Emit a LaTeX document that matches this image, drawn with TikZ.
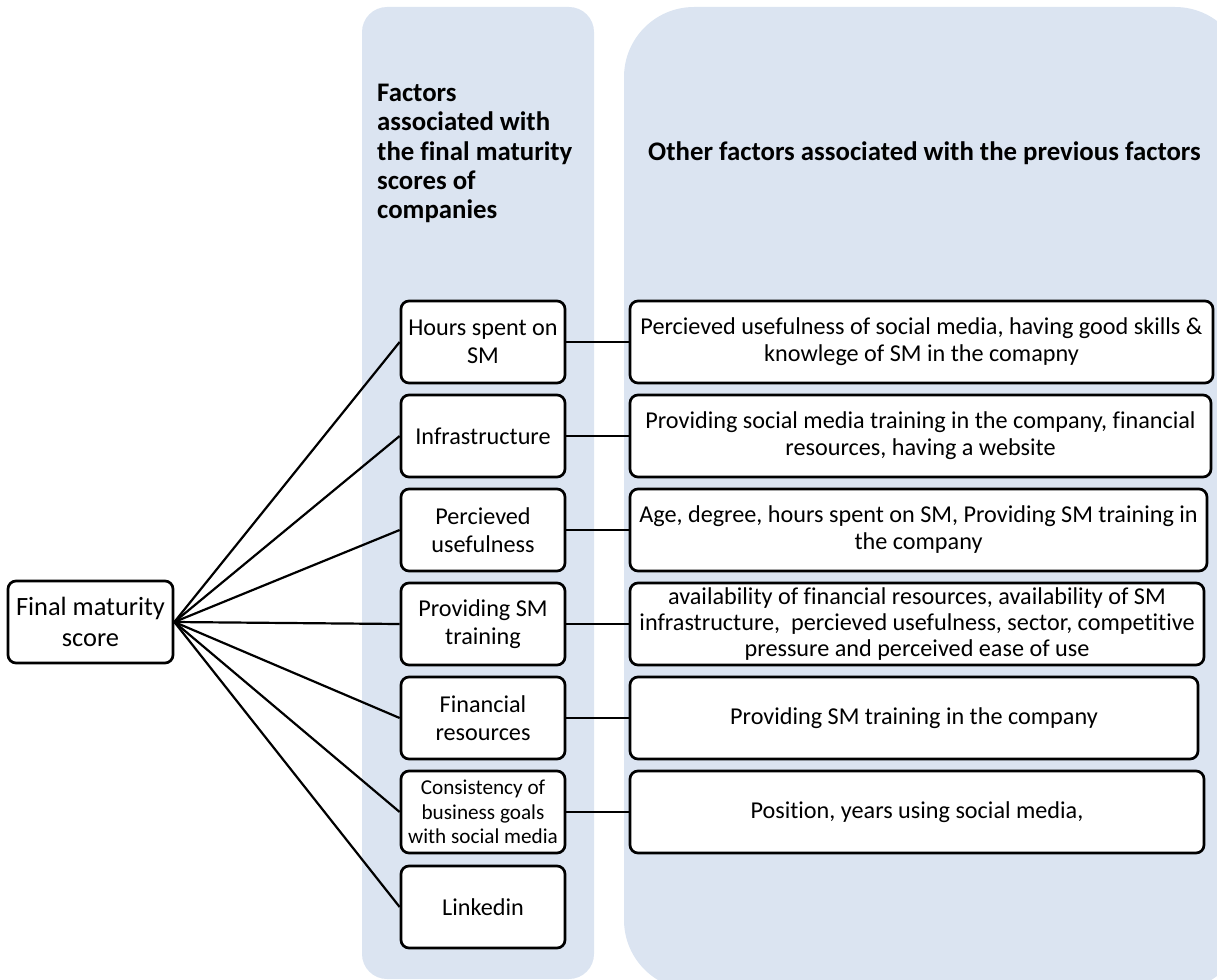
\documentclass[tikz,border=0pt]{standalone}
\usepackage{fontspec}
\setmainfont{Carlito}[Ligatures=NoCommon]
\definecolor{panelblue}{RGB}{219,228,241}
\begin{document}
\begin{tikzpicture}[x=1pt,y=-1pt,
  panel/.style={fill=panelblue,draw=none},
  boxbase/.style={draw,line width=2.7pt,rounded corners=8pt,fill=white,
    align=center,inner sep=2pt,minimum height=82pt},
  factor/.style={boxbase,minimum width=164pt,font=\fontsize{24.2}{27.5}\selectfont},
  smallfactor/.style={boxbase,minimum width=164pt,font=\fontsize{21.2}{24.5}\selectfont},
  detail/.style={boxbase,font=\fontsize{24.2}{27}\selectfont},
  link/.style={line width=2.2pt},
  header/.style={font=\fontsize{26.8}{29.3}\selectfont\bfseries}]
\useasboundingbox (0,0) rectangle (1217,979);

% background columns
\fill[panel,rounded corners=25pt] (362,7) rectangle (594,979);
\fill[panel,rounded corners=70pt] (624,7) rectangle (1245,990);

% column headings
\node[header,align=left,anchor=north west,inner sep=0pt] (h1) at (377,84)
  {Factors\\associated with\\the final maturity\\scores of\\companies};
\node[header,anchor=base,inner sep=0pt] (h2) at (924.5,160)
  {Other factors associated with the previous factors};

% root
\node[boxbase,minimum width=165pt,font=\fontsize{26.4}{31}\selectfont] (root) at (90.5,622)
  {Final maturity\\score};

% factors
\node[factor] (f1) at (483,342) {Hours spent on\\SM};
\node[factor] (f2) at (483,436) {Infrastructure};
\node[factor] (f3) at (483,530) {Percieved\\usefulness};
\node[factor] (f4) at (483,624) {Providing SM\\training};
\node[factor] (f5) at (483,718) {Financial\\resources};
\node[smallfactor] (f6) at (483,812) {Consistency of\\business goals\\with social media};
\node[factor] (f7) at (483,907) {Linkedin};

% associated factors
\node[detail,minimum width=583pt] (d1) at (921.5,342)
  {Percieved usefulness of social media, having good skills \&\\knowlege of SM in the comapny};
\node[detail,minimum width=581pt] (d2) at (920.5,436)
  {Providing social media training in the company, financial\\resources, having a website};
\node[detail,minimum width=577pt] (d3) at (918.5,530)
  {Age, degree, hours spent on SM, Providing SM training in\\the company};
\node[detail,minimum width=574pt,font=\fontsize{24.2}{26}\selectfont] (d4) at (917,624)
  {availability of financial resources, availability of SM\\infrastructure,\ \ percieved usefulness, sector, competitive\\pressure and perceived ease of use};
\node[detail,minimum width=568pt] (d5) at (914,718) {Providing SM training in the company};
\node[detail,minimum width=574pt] (d6) at (917,812) {Position, years using social media,};

% connectors
\foreach \i in {1,...,7} {\draw[link] (root.east) -- (f\i.west);}
\foreach \i in {1,...,6} {\draw[link] (f\i.east) -- (d\i.west);}
\end{tikzpicture}
\end{document}
